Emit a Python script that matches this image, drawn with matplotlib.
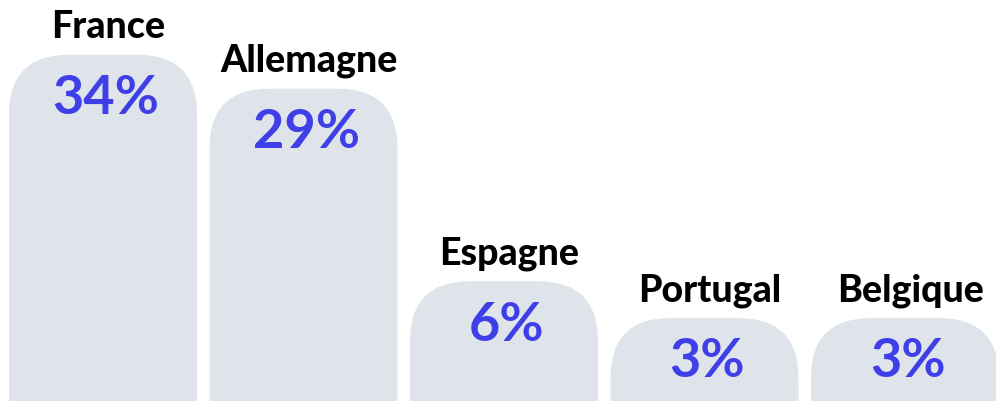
import matplotlib
matplotlib.use('Agg')
import matplotlib.pyplot as plt
import numpy as np
from matplotlib.patches import FancyBboxPatch
from matplotlib.transforms import IdentityTransform

pays = ['France', 'Allemagne', 'Espagne', 'Portugal', 'Belgique']
parts = [34, 29, 6, 3, 3]

gris = '#dfe3ea'
bleu = '#3f3fe8'
plt.rcParams['font.family'] = ['Lato', 'DejaVu Sans']


# echelle non lineaire (puissance 0.7), comme sur la maquette
def fwd(v):
    v = np.asarray(v, dtype=float)
    return np.sign(v) * np.abs(v) ** 0.7


def inv(t):
    t = np.asarray(t, dtype=float)
    return np.sign(t) * np.abs(t) ** (1 / 0.7)


fig = plt.figure(figsize=(9.96, 4.02), dpi=100)
ax = fig.add_axes([0, 0, 1, 1])
ax.set_yscale('function', functions=(fwd, inv))
ax.set_xlim(-0.514, 4.454)
bas = float(inv(-0.879))
ax.set_ylim(bas, float(inv(13.846)))
ax.axis('off')

x = np.arange(len(pays))
haut = np.array(parts, dtype=float)
barres = ax.bar(x, haut - bas, bottom=bas, width=0.938, color=gris)

# on remplace chaque barre par une forme arrondie en haut
for b in barres:
    bb = b.get_window_extent(renderer=fig.canvas.get_renderer())
    b.set_visible(False)
    ax.add_patch(FancyBboxPatch((bb.x0, bb.y0 - 80), bb.width, bb.height + 80,
                                boxstyle='round,pad=0,rounding_size=60',
                                transform=IdentityTransform(),
                                facecolor=gris, edgecolor='none', clip_on=False))

for xi, v, nom in zip(x, parts, pays):
    ax.annotate(nom, xy=(xi, v), xytext=(4, 13), textcoords='offset points',
                ha='center', va='baseline', fontsize=27, fontweight='black',
                color='black')
    ax.annotate('{}%'.format(v), xy=(xi, v), xytext=(2, -42), textcoords='offset points',
                ha='center', va='baseline', fontsize=39, fontweight='bold',
                color=bleu)

fig.savefig('out.png', dpi=100)
